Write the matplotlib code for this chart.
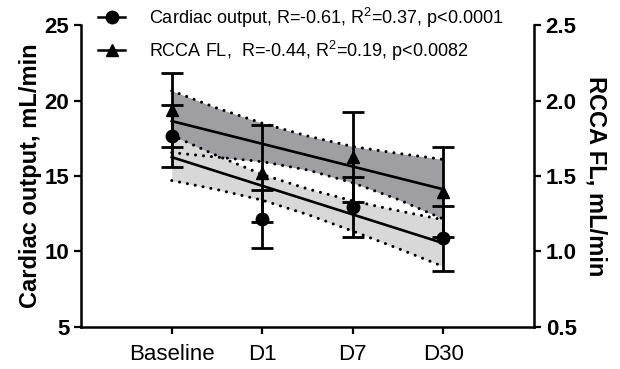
import matplotlib
matplotlib.use("Agg")
import matplotlib.pyplot as plt
from matplotlib.lines import Line2D
import numpy as np

plt.rcParams['font.family'] = ['Liberation Sans', 'DejaVu Sans']
plt.rcParams['mathtext.default'] = 'regular'

# time points
days = ['Baseline', 'D1', 'D7', 'D30']

# cardiac output, mL/min (mean, error)
co_mean = [17.65, 12.13, 12.97, 10.87]
co_err = [2.05, 1.93, 1.99, 2.16]
# RCCA flow, mL/min (mean, error)
fl_mean = [1.935, 1.518, 1.628, 1.396]
fl_err = [0.245, 0.32, 0.298, 0.298]

# regression lines (value at Baseline, value at D30)
co_fit = [16.25, 10.55]
fl_fit = [1.864, 1.412]

# 95% confidence bands read at half-step positions
band_x = [0, 0.5, 1, 1.5, 2, 2.5, 3]
co_upper = [17.7, 16.35, 15.1, 14.15, 13.35, 12.7, 12.1]
co_lower = [14.7, 14.1, 13.4, 12.45, 11.35, 10.2, 9.0]
fl_upper = [2.065, 1.95, 1.85, 1.765, 1.695, 1.65, 1.61]
fl_lower = [1.655, 1.625, 1.595, 1.54, 1.455, 1.345, 1.215]

co_label = 'Cardiac output, R=-0.61, R$^2$=0.37, p<0.0001'
fl_label = 'RCCA FL,  R=-0.44, R$^2$=0.19, p<0.0082'

x = np.arange(len(days))

fig = plt.figure(figsize=(6.2, 3.69), dpi=100)
ax = fig.add_axes([0.131, 0.114, 0.730, 0.818])
ax2 = ax.twinx()

dots = (0, (0.01, 2.6))

# bands: dark (RCCA) under light (cardiac)
ax.fill_between(band_x, fl_lower, fl_upper, color='#9f9fa3', lw=0,
                transform=ax2.transData, zorder=1)
ax.fill_between(band_x, co_lower, co_upper, color='#d8d8d8', lw=0, zorder=2)
ax.plot(band_x, co_upper, color='black', lw=2.2, ls=dots, dash_capstyle='round', zorder=3)
ax.plot(band_x, co_lower, color='black', lw=2.2, ls=dots, dash_capstyle='round', zorder=3)
ax.plot([x[0], x[-1]], co_fit, color='black', lw=1.9, zorder=4)
ax.errorbar(x, co_mean, yerr=co_err, fmt='o', color='black', ms=9,
            elinewidth=2, capsize=8, capthick=2, zorder=5)

ax2.plot(band_x, fl_upper, color='black', lw=2.2, ls=dots, dash_capstyle='round', zorder=3)
ax2.plot(band_x, fl_lower, color='black', lw=2.2, ls=dots, dash_capstyle='round', zorder=3)
ax2.plot([x[0], x[-1]], fl_fit, color='black', lw=1.9, zorder=4)
ax2.errorbar(x, fl_mean, yerr=fl_err, fmt='^', color='black', ms=9,
             elinewidth=2, capsize=8, capthick=2, zorder=5)

ax.set_xlim(-1, 4)
ax.set_ylim(5, 25)
ax2.set_ylim(0.5, 2.5)
ax.set_yticks([5, 10, 15, 20, 25])
ax2.set_yticks([0.5, 1.0, 1.5, 2.0, 2.5])
ax2.set_yticklabels(['0.5', '1.0', '1.5', '2.0', '2.5'])
ax.set_xticks(x)
ax.set_xticklabels(days, fontsize=16)
ax.tick_params(axis='x', pad=7)

for a in (ax, ax2):
    a.spines['top'].set_visible(False)
    for s in a.spines.values():
        s.set_linewidth(1.8)
    a.tick_params(width=1.6, length=5, direction='out')
    for t in a.get_yticklabels():
        t.set_fontweight('bold')
        t.set_fontsize(16)
ax.spines['right'].set_visible(False)
ax2.spines['left'].set_visible(False)
ax2.spines['bottom'].set_visible(False)

ax.set_ylabel('Cardiac output, mL/min', fontsize=17, fontweight='bold', labelpad=2)
ax2.set_ylabel('RCCA FL, mL/min', fontsize=17, fontweight='bold', rotation=270, labelpad=22)

handles = [
    Line2D([], [], color='black', marker='o', ms=9, lw=1.8),
    Line2D([], [], color='black', marker='^', ms=9, lw=1.8),
]
fig.legend(handles, [co_label, fl_label], loc='upper left',
           bbox_to_anchor=(0.158, 0.985), frameon=False, fontsize=13,
           handlelength=1.5, handletextpad=1.3, labelspacing=0.5,
           borderpad=0, borderaxespad=0)

fig.savefig('out.png', dpi=100)
